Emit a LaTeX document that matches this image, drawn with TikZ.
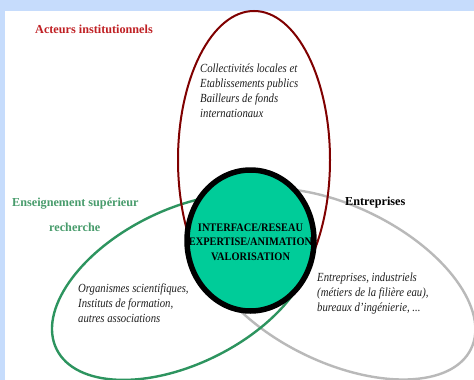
\documentclass[tikz,border=0pt]{standalone}
\usepackage{fontspec}
\setmainfont{Liberation Serif}
\newfontfamily\narrowserif{Liberation Serif}[FakeStretch=0.865]
\newfontfamily\hubserif{Liberation Serif}[FakeStretch=0.9]
\definecolor{framebg}{RGB}{198,220,252}
\definecolor{institred}{RGB}{192,32,36}
\definecolor{institline}{RGB}{128,0,0}
\definecolor{ensgreen}{RGB}{45,148,95}
\definecolor{enslabel}{RGB}{72,156,108}
\definecolor{entgray}{RGB}{185,185,185}
\definecolor{hubfill}{RGB}{0,204,153}

\begin{document}
\begin{tikzpicture}[x=1pt,y=-1pt,
        sectorlabel/.style={font=\bfseries\fontsize{12.2}{14}\selectfont,anchor=base west,inner sep=0pt},
        members/.style={font=\narrowserif\itshape\fontsize{12.4}{15}\selectfont,align=left,anchor=north west,inner sep=0pt,text=black!88}]
        \useasboundingbox (0,0) rectangle (474,380);
        \fill[framebg] (0,0) rectangle (474,380);
        \fill[white] (5,11) rectangle (474,380);
        \draw[entgray,line width=2.4pt,rotate around={-26:(338,284)}] (338,284) ellipse [x radius=148pt,y radius=78pt];
        \draw[ensgreen,line width=2.4pt,rotate around={26.4:(182,287)}] (182,287) ellipse [x radius=140pt,y radius=77pt];
        \draw[institline,line width=2pt] (254,160) ellipse [x radius=76pt,y radius=149pt];
        \draw[line width=5.5pt,fill=hubfill] (250.5,240.5) ellipse [x radius=63.5pt,y radius=70.5pt];
        \node[sectorlabel,text=institred] (acteurs) at (35,33) {Acteurs institutionnels};
        \node[sectorlabel,text=enslabel] (enseignement) at (12,206) {Enseignement supérieur};
        \node[sectorlabel,text=enslabel] (recherche) at (49,231.5) {recherche};
        \node[sectorlabel] (entreprises) at (345,205.5) {Entreprises};
        \node[members] (institmembers) at (200,64.1) {Collectivités locales et\\Etablissements publics\\Bailleurs de fonds\\internationaux};
        \node[members] (ensmembers) at (78,283.8) {Organismes scientifiques,\\Instituts de formation,\\autres associations};
        \node[members] (entmembers) at (317,272.2) {Entreprises, industriels\\(métiers de la filière eau),\\bureaux d’ingénierie, ...};
        \node[font=\hubserif\bfseries\fontsize{11.5}{14.5}\selectfont,align=center,inner sep=0pt] (hub) at (250.5,242) {INTERFACE/RESEAU\\EXPERTISE/ANIMATION\\VALORISATION};
    \end{tikzpicture}
\end{document}
